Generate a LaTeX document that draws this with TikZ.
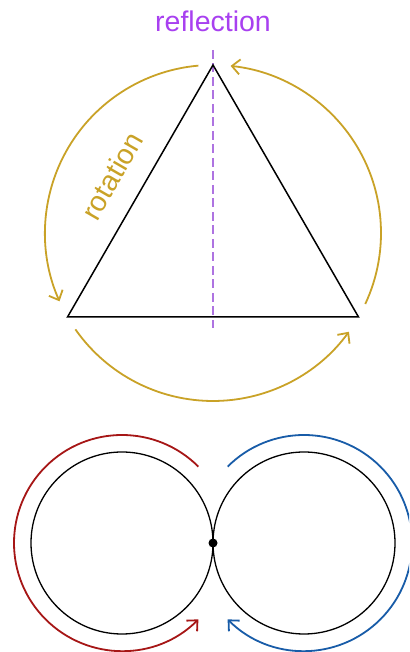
\documentclass[tikz,border=0pt]{standalone}
\usepackage{fontspec}
\setmainfont{Liberation Sans}
\usetikzlibrary{arrows.meta}
\definecolor{gold}{RGB}{201,162,39}
\definecolor{refl}{RGB}{168,64,240}
\definecolor{dashc}{RGB}{160,90,220}
\definecolor{redarc}{RGB}{166,22,22}
\definecolor{bluearc}{RGB}{24,92,168}
\tikzset{
  tip/.style={-{Straight Barb[length=8pt,width=15pt]}},
  rotarc/.style={draw=gold, line width=1.8pt, tip},
  tri/.style={draw=black, line width=1.5pt, line join=miter},
  ring/.style={draw=black, line width=1.3pt},
  lbl/.style={font=\fontsize{28.5}{31}\selectfont, inner sep=0pt},
}
\begin{document}
\begin{tikzpicture}[x=1pt,y=1pt]
\useasboundingbox (0,0) rectangle (409,652);
\clip (0,0) rectangle (409,652);
% upper part
\coordinate (C) at (213,419);
\coordinate (A) at ([shift={(90:168)}]C);
\coordinate (B) at ([shift={(210:168)}]C);
\coordinate (D) at ([shift={(330:168)}]C);
\coordinate (dtop) at (213,602);
\coordinate (dbot) at (213,324);
\draw[dashc, opacity=0.85, line width=2.2pt, dash pattern=on 9pt off 4.5pt] (dtop) -- (dbot);
\draw[tri] (A) -- (B) -- (D) -- cycle;
\draw[rotarc] ([shift={(95:168)}]C) arc[start angle=95, end angle=204, radius=168];
\draw[rotarc] ([shift={(215:168)}]C) arc[start angle=215, end angle=324, radius=168];
\draw[rotarc] ([shift={(335:168)}]C) arc[start angle=335, end angle=444, radius=168];
\node[lbl, text=refl] (reflection) at (213,631) {reflection};
\node[lbl, text=gold, rotate=60] (rotation) at (112,476) {rotation};
% lower part
\coordinate (L) at (122,109);
\coordinate (R) at (304,109);
\draw[ring] (L) circle[radius=91];
\draw[ring] (R) circle[radius=91];
\node[circle, fill=black, inner sep=0pt, minimum size=9pt] (T) at (213,109) {};
\draw[draw=redarc, line width=1.8pt, tip] ([shift={(45:108)}]L) arc[start angle=45, end angle=315, radius=108];
\draw[draw=bluearc, line width=1.8pt, tip] ([shift={(135:108)}]R) arc[start angle=135, end angle=-135, radius=108];
\end{tikzpicture}
\end{document}
